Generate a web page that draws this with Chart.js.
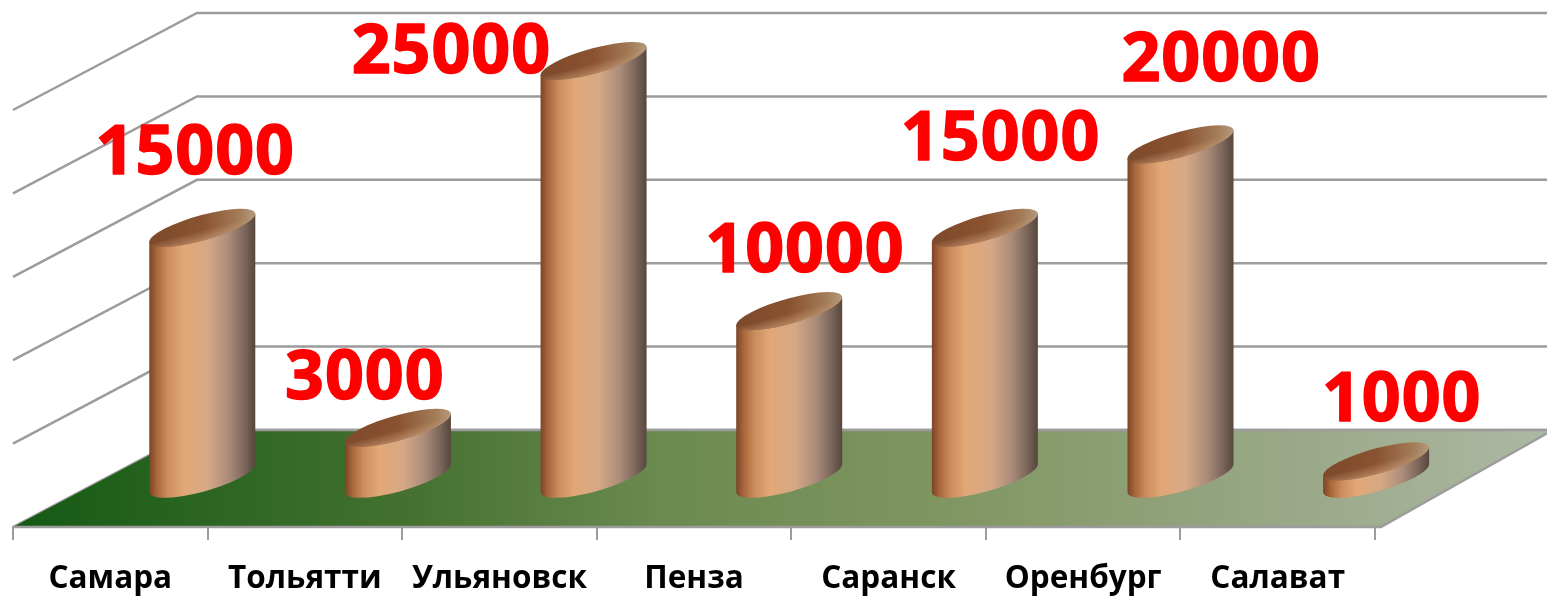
<!DOCTYPE html>
<html>
<head>
<meta charset="utf-8">
<style>html,body{margin:0;padding:0;background:#fff}canvas{display:block}</style>
<script src="https://cdn.jsdelivr.net/npm/chart.js@4"></script>
</head>
<body>
<canvas id="c" width="1547" height="596"></canvas>
<script>
const categories = ['Самара','Тольятти','Ульяновск','Пенза','Саранск','Оренбург','Салават'];
const values = [15000,3000,25000,10000,15000,20000,1000];
const gridValues = [0,5000,10000,15000,20000,25000];

// styling / placement of the pseudo-3D scene (not data)
const labelShift = [[-7,-73],[-32,-48],[-140,-7],[19,-59],[20,-87],[46,-83],[32,-60]];
const depth = {x:184,y:-97};
const barShift = {x:92,y:-49};
const perspective = 1.0055;
const GRID = '#9c9c9c';
const skew = 14/53;
let firstBarX = 0;

class CylinderElement extends Chart.BarElement {
  draw(ctx){
    const r = this.width/2, b = 14, capB = 13;
    const top = this.y + barShift.y, base = this.base + barShift.y;
    ctx.save();
    ctx.translate(firstBarX + (this.x-firstBarX)*perspective + barShift.x, 0);
    ctx.transform(1,-skew,0,1,0,0);
    const body = ctx.createLinearGradient(-r,0,r,0);
    body.addColorStop(0,'#7a4526');
    body.addColorStop(0.07,'#a8663a');
    body.addColorStop(0.17,'#ca8c5c');
    body.addColorStop(0.32,'#e2a877');
    body.addColorStop(0.55,'#d6a886');
    body.addColorStop(0.75,'#ab8c7a');
    body.addColorStop(0.9,'#7a665a');
    body.addColorStop(1,'#57463c');
    ctx.beginPath();
    ctx.moveTo(-r,top);
    ctx.lineTo(-r,base);
    ctx.ellipse(0,base,r,b,0,Math.PI,0,true);
    ctx.lineTo(r,top);
    ctx.closePath();
    ctx.fillStyle = body;
    ctx.fill();
    const cap = ctx.createLinearGradient(-r,0,r,0);
    cap.addColorStop(0,'#7d4a2b');
    cap.addColorStop(0.5,'#8a5230');
    cap.addColorStop(0.85,'#a37c58');
    cap.addColorStop(1,'#b59a7e');
    ctx.beginPath();
    ctx.ellipse(0,top,r,capB,0,0,Math.PI*2);
    ctx.fillStyle = cap;
    ctx.fill();
    const rim = ctx.createLinearGradient(0,top+2,0,top+capB);
    rim.addColorStop(0,'rgba(205,160,125,0)');
    rim.addColorStop(1,'rgba(205,160,125,0.6)');
    ctx.fillStyle = rim;
    ctx.fill();
    ctx.restore();
  }
}
CylinderElement.id = 'cylinderBar';
CylinderElement.defaults = Chart.BarElement.defaults;
CylinderElement.defaultRoutes = Chart.BarElement.defaultRoutes;

class CylinderController extends Chart.BarController {}
CylinderController.id = 'cylinder';
CylinderController.defaults = Object.assign({}, Chart.BarController.defaults, {dataElementType:'cylinderBar'});
CylinderController.overrides = Chart.BarController.overrides;
Chart.register(CylinderElement, CylinderController);

const scene = {
  id:'scene',
  beforeDatasetsDraw(chart){
    const {ctx,chartArea:a,scales:{y}} = chart;
    firstBarX = chart.getDatasetMeta(0).data[0].x;
    const backL = a.left + depth.x, backR = 1547;
    const floorY = y.getPixelForValue(0);
    ctx.save();
    ctx.strokeStyle = GRID;
    ctx.lineWidth = 2.5;
    gridValues.forEach(v=>{
      const py = y.getPixelForValue(v);
      ctx.beginPath();
      ctx.moveTo(a.left,py);
      ctx.lineTo(backL,py+depth.y);
      ctx.lineTo(backR,py+depth.y);
      ctx.stroke();
    });
    const f = ctx.createLinearGradient(a.left,0,1547,0);
    f.addColorStop(0,'#145a14');
    f.addColorStop(0.25,'#43702f');
    f.addColorStop(0.42,'#6a8a4f');
    f.addColorStop(0.6,'#7f9560');
    f.addColorStop(0.8,'#96a582');
    f.addColorStop(1,'#adb8a2');
    ctx.beginPath();
    ctx.moveTo(a.left,floorY);
    ctx.lineTo(backL,floorY+depth.y);
    ctx.lineTo(1553,floorY+depth.y);
    ctx.lineTo(a.right+6,floorY);
    ctx.closePath();
    ctx.fillStyle = f;
    ctx.fill();
    ctx.beginPath();
    ctx.moveTo(a.left,floorY);
    ctx.lineTo(a.right+6,floorY);
    ctx.lineTo(1553,floorY+depth.y);
    ctx.stroke();
    ctx.beginPath();
    ctx.moveTo(backL,floorY+depth.y);
    ctx.lineTo(1547,floorY+depth.y);
    ctx.stroke();
    ctx.restore();
  },
  afterDatasetsDraw(chart){
    const {ctx} = chart;
    const bars = chart.getDatasetMeta(0).data;
    ctx.save();
    ctx.font = 'bold 68px "Open Sans"';
    ctx.letterSpacing = '1px';
    ctx.fillStyle = '#ff0000';
    ctx.strokeStyle = '#ff0000';
    ctx.lineWidth = 1.5;
    ctx.lineJoin = 'round';
    ctx.textAlign = 'center';
    ctx.textBaseline = 'middle';
    bars.forEach((el,i)=>{
      const tx = el.x + barShift.x + labelShift[i][0], ty = el.y + barShift.y + labelShift[i][1];
      ctx.fillText(String(values[i]), tx, ty);
      ctx.strokeText(String(values[i]), tx, ty);
    });
    ctx.restore();
  }
};

new Chart(document.getElementById('c'),{
  type:'cylinder',
  data:{labels:categories,datasets:[{data:values,barThickness:106,clip:false,backgroundColor:'#d6a886'}]},
  options:{
    responsive:false,
    animation:false,
    layout:{padding:{left:13,right:172,top:110,bottom:0}},
    plugins:{legend:{display:false},tooltip:{enabled:false},title:{display:false}},
    scales:{
      y:{display:false,min:0,max:25000,ticks:{stepSize:5000}},
      x:{
        afterFit(s){s.height=69;},
        border:{color:GRID,width:2},
        grid:{drawOnChartArea:false,drawTicks:true,tickLength:13,color:GRID,lineWidth:2},
        ticks:{color:'#000',autoSkip:false,maxRotation:0,padding:20,font:{family:'"Open Sans"',weight:'bold',size:31.5}}
      }
    }
  },
  plugins:[scene]
});
</script>
</body>
</html>
